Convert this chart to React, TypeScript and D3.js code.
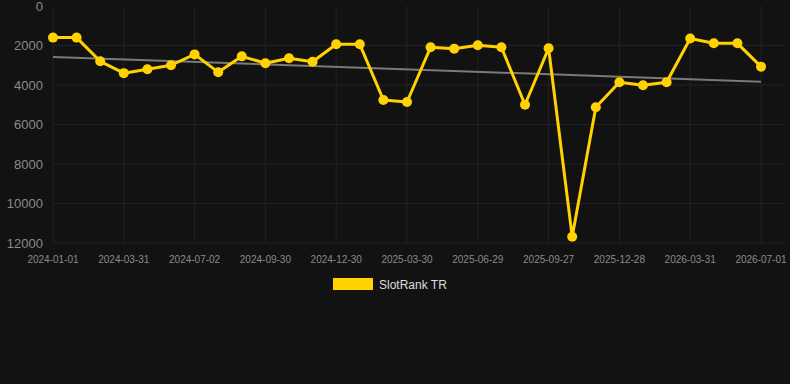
import React from "react";
import * as d3 from "d3";

const categories: string[] = [
  "2024-01-01", "2024-01-31", "2024-03-01", "2024-03-31", "2024-05-01", "2024-06-01",
  "2024-07-02", "2024-08-01", "2024-08-31", "2024-09-30", "2024-10-31", "2024-11-30",
  "2024-12-30", "2025-01-29", "2025-02-28", "2025-03-30", "2025-04-30", "2025-05-30",
  "2025-06-29", "2025-07-29", "2025-08-28", "2025-09-27", "2025-10-28", "2025-11-27",
  "2025-12-28", "2026-01-28", "2026-02-28", "2026-03-31", "2026-04-30", "2026-05-31",
  "2026-07-01",
];

const rankValues: number[] = [
  1600, 1600, 2800, 3400, 3200, 3000, 2450, 3350, 2550, 2900, 2650, 2820,
  1940, 1940, 4760, 4860, 2090, 2160, 1990, 2090, 5000, 2140, 11680, 5130,
  3860, 4010, 3860, 1650, 1890, 1890, 3070,
];

const trendStart = 2580;
const trendEnd = 3830;

const yTicks: number[] = [0, 2000, 4000, 6000, 8000, 10000, 12000];
const xTickLabels: string[] = [
  "2024-01-01", "2024-03-31", "2024-07-02", "2024-09-30", "2024-12-30", "2025-03-30",
  "2025-06-29", "2025-09-27", "2025-12-28", "2026-03-31", "2026-07-01",
];

const seriesName = "SlotRank TR";

const W = 790;
const H = 384;
const left = 53;
const right = 785;
const top = 6;
const bottom = 243;
const lineColor = "#FFD200";
const gridColor = "#222222";

export default function App() {
  const x = d3.scalePoint<string>().domain(categories).range([left, 761]);
  const y = d3.scaleLinear().domain([0, 12000]).range([top, bottom]);
  const line = d3
    .line<number>()
    .x((_, i) => x(categories[i]) as number)
    .y((d) => y(d));
  const trendPath = d3
    .line<number>()
    .x((_, i) => x(categories[i === 0 ? 0 : categories.length - 1]) as number)
    .y((d) => y(d))([trendStart, trendEnd]);

  return (
    <svg
      width={W}
      height={H}
      style={{ position: "absolute", left: 0, top: 0, background: "#121212", fontFamily: "Liberation Sans, Arial, sans-serif" }}
    >
      <rect x={0} y={0} width={W} height={H} fill="#121212" />
      {yTicks.map((t) => (
        <g key={"y" + t}>
          {t !== 0 && (
            <line x1={left} x2={right} y1={y(t)} y2={y(t)} stroke={gridColor} strokeWidth={1} />
          )}
          <text x={43} y={y(t)} dy="0.35em" textAnchor="end" fill="#8a8a8a" fontSize={13}>
            {t}
          </text>
        </g>
      ))}
      {xTickLabels.map((c) => (
        <g key={"x" + c}>
          <line x1={x(c)} x2={x(c)} y1={top} y2={bottom} stroke={gridColor} strokeWidth={1} />
          <text x={x(c)} y={259} dy="0.35em" textAnchor="middle" fill="#8a8a8a" fontSize={10}>
            {c}
          </text>
        </g>
      ))}
      <path d={trendPath || ""} fill="none" stroke="#7a7a7a" strokeWidth={2} />
      <path d={line(rankValues) || ""} fill="none" stroke={lineColor} strokeWidth={3} strokeLinejoin="round" />
      {rankValues.map((v, i) => (
        <circle key={i} cx={x(categories[i])} cy={y(v)} r={5} fill={lineColor} />
      ))}
      <rect x={333} y={278} width={40} height={12} fill={lineColor} />
      <text x={379} y={284.5} dy="0.35em" fill="#dddddd" fontSize={12}>
        {seriesName}
      </text>
    </svg>
  );
}
